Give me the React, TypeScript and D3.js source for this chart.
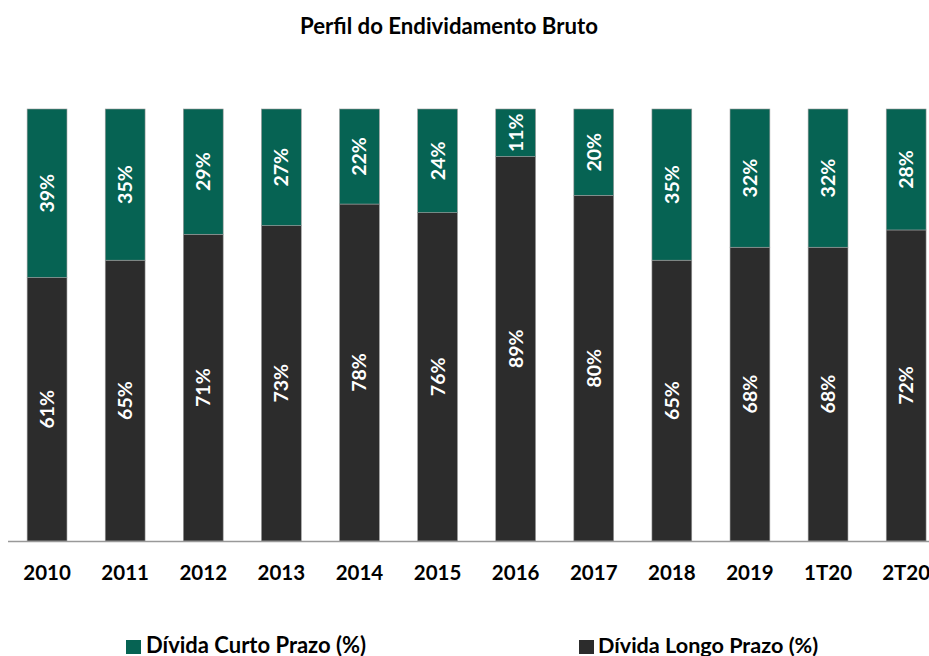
import React from "react";
import * as d3 from "d3";

const categories = ["2010", "2011", "2012", "2013", "2014", "2015", "2016", "2017", "2018", "2019", "1T20", "2T20"];
const curtoPrazo = [39, 35, 29, 27, 22, 24, 11, 20, 35, 32, 32, 28];
const longoPrazo = [61, 65, 71, 73, 78, 76, 89, 80, 65, 68, 68, 72];
const title = "Perfil do Endividamento Bruto";
const legendLabels = ["Dívida Curto Prazo (%)", "Dívida Longo Prazo (%)"];

const W = 929;
const H = 656;
const FONT = "Lato, 'Open Sans', sans-serif";
const GREEN = "#066353";
const DARK = "#2c2c2c";

export default function App() {
  const x = d3
    .scaleBand<string>()
    .domain(categories)
    .range([8, 8 + 12 * 78.1])
    .paddingInner(0.49)
    .paddingOuter(0.245);
  const y = d3.scaleLinear().domain([0, 100]).range([541, 109]);
  const bw = x.bandwidth();

  return (
    <svg width={W} height={H} style={{ position: "absolute", left: 0, top: 0, background: "#fff" }}>
      <text x={449} y={34} textAnchor="middle" fontFamily={FONT} fontWeight={700} fontSize={22.2} fill="#000">
        {title}
      </text>
      {categories.map((c, i) => {
        const x0 = x(c)!;
        const cx = x0 + bw / 2;
        const lp = longoPrazo[i];
        const cp = curtoPrazo[i];
        const yL = y(lp);
        const yC = y(lp + cp);
        return (
          <g key={c}>
            <rect x={x0} y={yL} width={bw} height={y(0) - yL} fill={DARK} stroke="#9a9a9a" strokeWidth={0.6} />
            <rect x={x0} y={yC} width={bw} height={yL - yC} fill={GREEN} stroke="#9a9a9a" strokeWidth={0.6} />
            <text
              transform={`translate(${cx},${(yC + yL) / 2}) rotate(-90)`}
              textAnchor="middle"
              dy="0.36em"
              fontFamily={FONT}
              fontWeight={700}
              fontSize={19.5}
              fill="#fff"
            >
              {cp}%
            </text>
            <text
              transform={`translate(${cx},${(yL + y(0)) / 2}) rotate(-90)`}
              textAnchor="middle"
              dy="0.36em"
              fontFamily={FONT}
              fontWeight={700}
              fontSize={19.5}
              fill="#fff"
            >
              {lp}%
            </text>
            <text x={cx} y={580} textAnchor="middle" fontFamily={FONT} fontWeight={700} fontSize={20.5} fill="#000">
              {c}
            </text>
          </g>
        );
      })}
      <line x1={8} x2={W} y1={541.5} y2={541.5} stroke="#999" strokeWidth={1.5} />
      <rect x={126} y={640} width={15} height={14} fill={GREEN} />
      <text x={146} y={653} fontFamily={FONT} fontWeight={700} fontSize={22} fill="#000">
        {legendLabels[0]}
      </text>
      <rect x={579} y={640} width={15} height={14} fill={DARK} />
      <text x={598} y={653} fontFamily={FONT} fontWeight={700} fontSize={21.6} fill="#000">
        {legendLabels[1]}
      </text>
    </svg>
  );
}
